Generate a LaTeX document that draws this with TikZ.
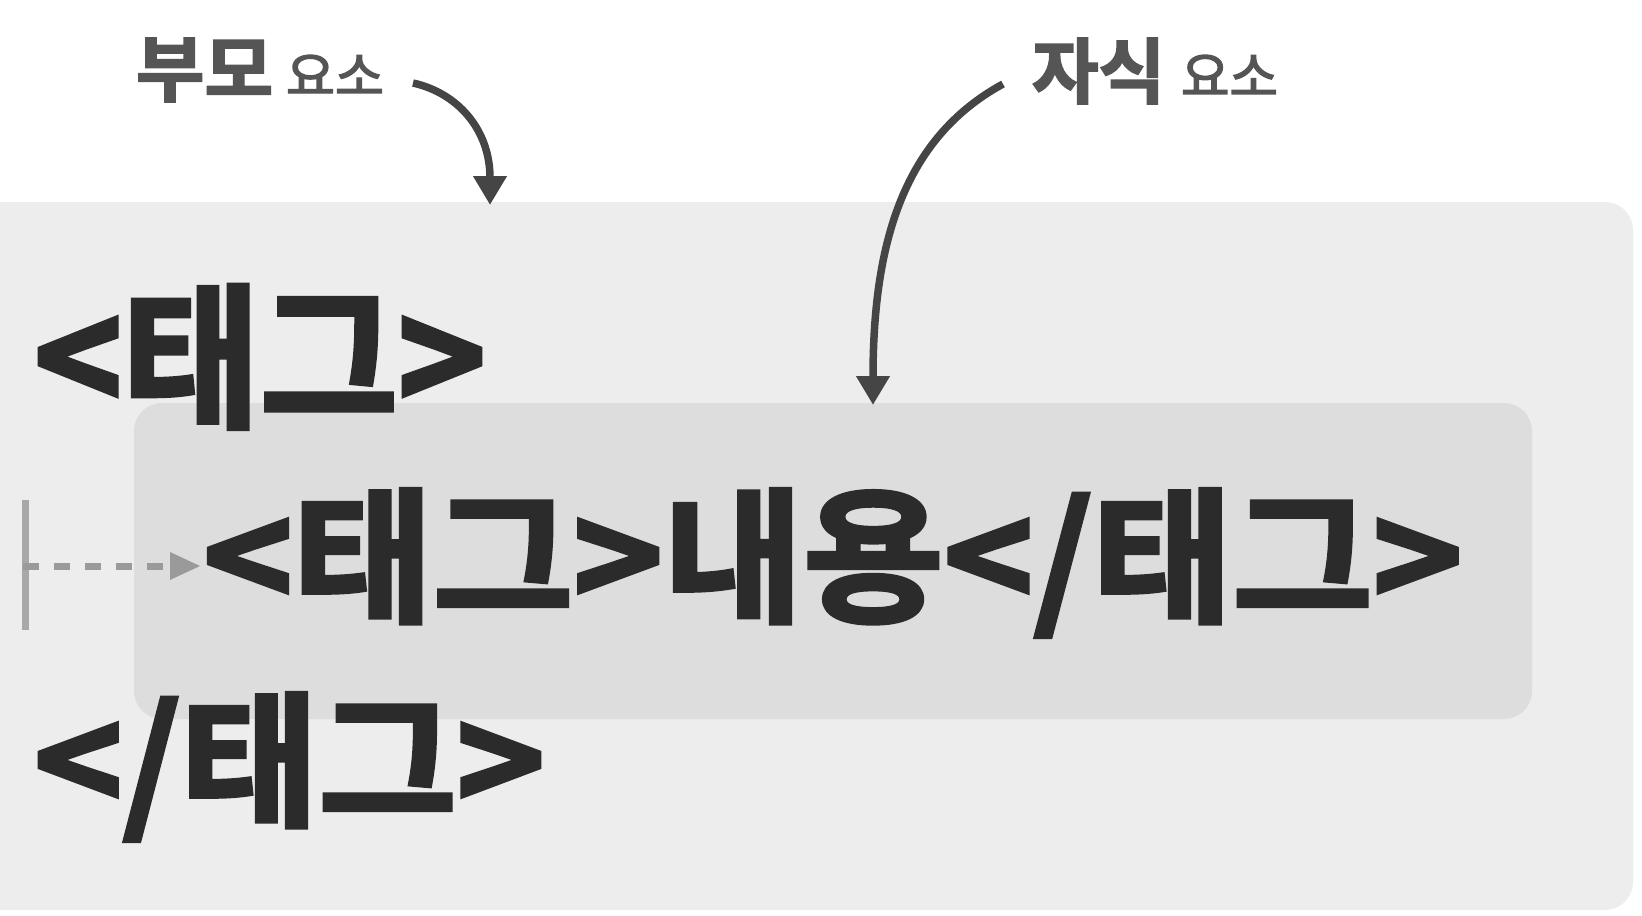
\documentclass[tikz,border=0pt]{standalone}
\usepackage{fontspec}
\usepackage{graphicx}
\newfontfamily\krfont{Noto Sans CJK KR}[FakeBold=2.5]
\newfontfamily\krbold{Noto Sans CJK KR Bold}[FakeBold=2.8]
\newfontfamily\krlbl{Noto Sans CJK KR Bold}[FakeBold=2.5]
\usetikzlibrary{arrows.meta}
\definecolor{outerbg}{HTML}{EDEDED}
\definecolor{innerbg}{HTML}{DDDDDD}
\definecolor{txtdark}{HTML}{2B2B2B}
\definecolor{lblgray}{HTML}{555555}
\definecolor{arrowgray}{HTML}{454545}
\definecolor{markgray}{HTML}{A8A8A8}
\definecolor{dashgray}{HTML}{9A9A9A}
\tikzset{
  boxshape/.style={inner sep=0pt, outer sep=0pt, rounded corners=28pt, draw=none},
  codetext/.style={inner sep=0pt, outer sep=0pt, anchor=south west, text=txtdark, font=\krbold},
  lbltext/.style={inner sep=0pt, outer sep=0pt, anchor=south west, text=lblgray},
  callout/.style={draw=arrowgray, line width=7.5pt, -{Triangle[width=32pt,length=29pt]}},
}
\begin{document}
\begin{tikzpicture}[x=1pt,y=-1pt]
\useasboundingbox[fill=white] (0,0) rectangle (1642,916);
% boxes
\fill[outerbg, rounded corners=28pt] (-40,202) rectangle (1633,910);
\node[boxshape, fill=innerbg, minimum width=1398pt, minimum height=316pt, anchor=north west] (inner) at (134,403) {};
% code lines
\node[codetext] (line1) at (34,429) {\resizebox*{452pt}{144pt}{<태그>}};
\node[codetext] (line2) at (203,637) {\resizebox*{1259pt}{148pt}{<태그>내용</태그>}};
\node[codetext] (line3) at (34,841) {\resizebox*{511pt}{148pt}{</태그>}};
% labels
\node[lbltext, font=\krlbl] (parent) at (136,102) {\resizebox*{137pt}{64pt}{부모}};
\node[lbltext, font=\krfont] (parentsub) at (286,95) {\resizebox*{98pt}{40pt}{요소}};
\node[lbltext, font=\krlbl] (child) at (1032,104) {\resizebox*{133pt}{66pt}{자식}};
\node[lbltext, font=\krfont] (childsub) at (1181,96) {\resizebox*{97pt}{41pt}{요소}};
% callout arrows
\coordinate (pstart) at (413,83);
\coordinate (pend) at (490,205);
\coordinate (cstart) at (1003,84);
\coordinate (cend) at (873,405);
\draw[callout] (pstart) .. controls (458,93) and (490,130) .. (pend);
\draw[callout] (cstart) .. controls (900,140) and (873,250) .. (cend);
% indent marker
\coordinate (bartop) at (25,500);
\coordinate (barbot) at (25,630);
\coordinate (dstart) at (23,566);
\coordinate (dend) at (200,566);
\draw[markgray, line width=7pt] (bartop) -- (barbot);
\draw[dashgray, line width=7pt, dash pattern=on 16pt off 15pt] (dstart) -- (170,566);
\fill[dashgray] (170,552) -- (dend) -- (170,580) -- cycle;
\end{tikzpicture}
\end{document}
